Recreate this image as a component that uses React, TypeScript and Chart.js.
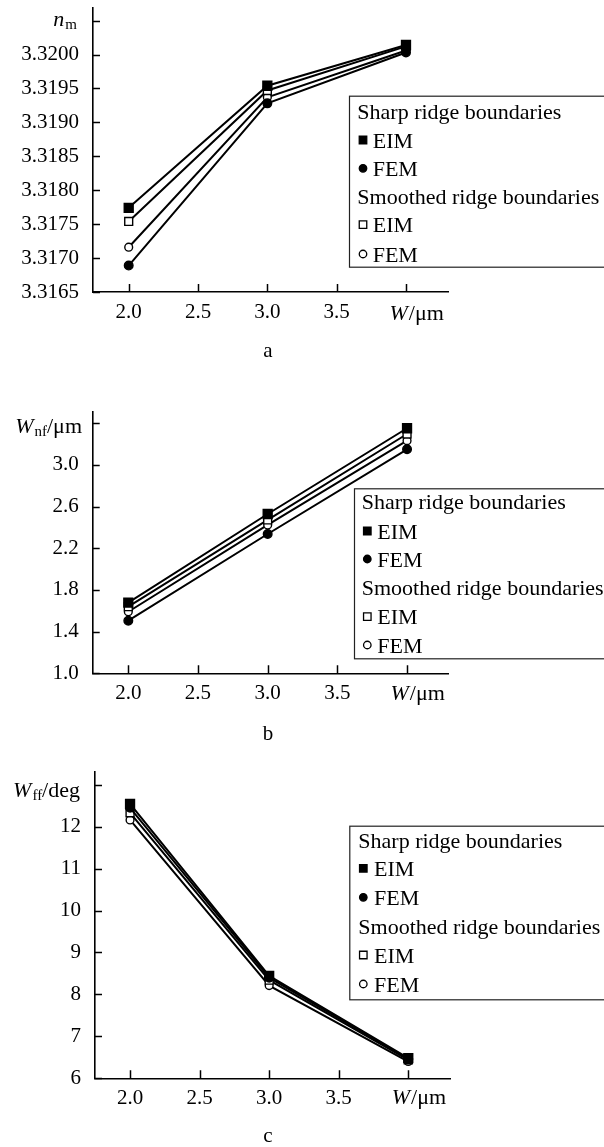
import React, { useEffect, useRef } from 'react';
import { Chart, registerables } from 'chart.js';

Chart.register(...registerables);

// ---------- data ----------
const xValues = [2.0, 3.0, 4.0];
const xTicks = [2.0, 2.5, 3.0, 3.5, 4.0];

const legendGroups = ['Sharp ridge boundaries', 'Smoothed ridge boundaries'];
const methodLabels = ['EIM', 'FEM'];
const panelLetters = ['a', 'b', 'c'];

// panel a: n_m
const nmTicks = [3.3165, 3.317, 3.3175, 3.318, 3.3185, 3.319, 3.3195, 3.32, 3.3205];
const nmSharpEIM = [3.31774, 3.31954, 3.32014];
const nmSharpFEM = [3.31689, 3.31928, 3.32003];
const nmSmoothEIM = [3.31754, 3.31947, 3.32012];
const nmSmoothFEM = [3.31716, 3.31937, 3.32006];

// panel b: W_nf
const wnfTicks = [1.0, 1.4, 1.8, 2.2, 2.6, 3.0, 3.4];
const wnfSharpEIM = [1.678, 2.529, 3.352];
const wnfSharpFEM = [1.505, 2.337, 3.15];
const wnfSmoothEIM = [1.64, 2.472, 3.297];
const wnfSmoothFEM = [1.591, 2.424, 3.233];

// panel c: W_ff
const wffTicks = [6, 7, 8, 9, 10, 11, 12, 13];
const wffSharpEIM = [12.54, 8.44, 6.48];
const wffSharpFEM = [12.45, 8.4, 6.46];
const wffSmoothEIM = [12.33, 8.34, 6.44];
const wffSmoothFEM = [12.16, 8.21, 6.4];

// axis title pieces
const yTitleA = [{ t: 'n', italic: true }, { t: 'm', sub: true }];
const yTitleB = [{ t: 'W', italic: true }, { t: 'nf', sub: true }, { t: '/' }, { t: 'μm' }];
const yTitleC = [{ t: 'W', italic: true }, { t: 'ff', sub: true }, { t: '/' }, { t: 'deg' }];
const xTitle = [{ t: 'W', italic: true }, { t: '/' }, { t: 'μm' }];

// ---------- layout / styling ----------
const W = 604;
const SERIF = "'Liberation Serif', 'Times New Roman', Times, serif";

type Part = { t: string; italic?: boolean; sub?: boolean };

const panels = [
  {
    top: 0, H: 365, L: 93, T: 7, R: 448, B: 292,
    xMin: 1.7425, xMax: 4.303, yMin: 3.3165, yMax: 3.32069,
    yTicks: nmTicks, digits: 4,
    series: [nmSharpEIM, nmSharpFEM, nmSmoothEIM, nmSmoothFEM],
    yTitle: yTitleA, yTitleRight: 77, yTitleBase: 26,
    xTitleBase: 320,
    letter: panelLetters[0], letterBase: 357,
    legend: { left: 349, top: 95.7, bottom: 266.7, headerX: 357.3, markerX: 363, entryX: 372.7, rows: [111.7, 140, 168.3, 196.7, 224.7, 254] },
  },
  {
    top: 365, H: 385, L: 92.7, T: 46.7, R: 448.3, B: 308.3,
    xMin: 1.7445, xMax: 4.296, yMin: 1.0, yMax: 3.511,
    yTicks: wnfTicks, digits: 1,
    series: [wnfSharpEIM, wnfSharpFEM, wnfSmoothEIM, wnfSmoothFEM],
    yTitle: yTitleB, yTitleRight: 82, yTitleBase: 68.3,
    xTitleBase: 335,
    letter: panelLetters[1], letterBase: 375,
    legend: { left: 354, top: 123.3, bottom: 293.3, headerX: 361.7, markerX: 367.3, entryX: 377.3, rows: [136.7, 166, 194, 222.7, 251.7, 280] },
  },
  {
    top: 750, H: 397, L: 95, T: 21.7, R: 450.7, B: 328.3,
    xMin: 1.748, xMax: 4.305, yMin: 6, yMax: 13.31,
    yTicks: wffTicks, digits: 0,
    series: [wffSharpEIM, wffSharpFEM, wffSmoothEIM, wffSmoothFEM],
    yTitle: yTitleC, yTitleRight: 80, yTitleBase: 47.3,
    xTitleBase: 353.5,
    letter: panelLetters[2], letterBase: 392,
    legend: { left: 349.3, top: 75.7, bottom: 249.3, headerX: 358.3, markerX: 363.3, entryX: 374, rows: [90, 118.3, 147.3, 176.7, 205, 234] },
  },
];

// marker styles: sharp EIM, sharp FEM, smoothed EIM, smoothed FEM
const markerStyles = [
  { style: 'rect', fill: '#000', r: 6.3 },
  { style: 'circle', fill: '#000', r: 4.3 },
  { style: 'rect', fill: '#fff', r: 5.6 },
  { style: 'circle', fill: '#fff', r: 3.9 },
];

function fontFor(p: Part) {
  if (p.sub) return `15px ${SERIF}`;
  return `${p.italic ? 'italic ' : ''}22px ${SERIF}`;
}

function drawRich(ctx: CanvasRenderingContext2D, parts: Part[], x: number, base: number, align: 'left' | 'right') {
  ctx.save();
  ctx.textAlign = 'left';
  ctx.textBaseline = 'alphabetic';
  ctx.fillStyle = '#000';
  const widths = parts.map((p) => {
    ctx.font = fontFor(p);
    return ctx.measureText(p.t).width + (p.italic ? 1 : 0);
  });
  const total = widths.reduce((a, b) => a + b, 0);
  let cx = align === 'right' ? x - total : x;
  parts.forEach((p, i) => {
    ctx.font = fontFor(p);
    ctx.fillText(p.t, cx, p.sub ? base + 3 : base);
    cx += widths[i];
  });
  ctx.restore();
}

function drawMarker(ctx: CanvasRenderingContext2D, style: string, fill: string, x: number, y: number, size: number) {
  ctx.save();
  ctx.fillStyle = fill;
  ctx.strokeStyle = '#000';
  ctx.lineWidth = 1.3;
  ctx.beginPath();
  if (style === 'rect') {
    ctx.rect(x - size / 2, y - size / 2, size, size);
  } else {
    ctx.arc(x, y, size / 2, 0, Math.PI * 2);
  }
  ctx.fill();
  ctx.stroke();
  ctx.restore();
}

function makeOverlay(p: (typeof panels)[number]) {
  return {
    id: 'overlay',
    beforeDatasetsDraw(chart: any) {
      const ctx: CanvasRenderingContext2D = chart.ctx;
      const xs = chart.scales.x;
      const ys = chart.scales.y;
      const a = chart.chartArea;
      ctx.save();
      ctx.strokeStyle = '#000';
      ctx.lineWidth = 1.5;
      ctx.beginPath();
      p.yTicks.forEach((v) => {
        const py = Math.round(ys.getPixelForValue(v)) + 0.5;
        ctx.moveTo(a.left, py);
        ctx.lineTo(a.left + 7, py);
      });
      xTicks.forEach((v) => {
        const px = Math.round(xs.getPixelForValue(v)) + 0.5;
        ctx.moveTo(px, a.bottom);
        ctx.lineTo(px, a.bottom - 8);
      });
      ctx.stroke();
      ctx.restore();
    },
    afterDraw(chart: any) {
      const ctx: CanvasRenderingContext2D = chart.ctx;
      const xs = chart.scales.x;
      // axis titles
      drawRich(ctx, p.yTitle, p.yTitleRight, p.yTitleBase, 'right');
      const lastX = xs.getPixelForValue(xTicks[xTicks.length - 1]);
      drawRich(ctx, xTitle, lastX - 16.5, p.xTitleBase, 'left');
      // panel letter
      ctx.save();
      ctx.font = `21px ${SERIF}`;
      ctx.fillStyle = '#000';
      ctx.textAlign = 'center';
      ctx.textBaseline = 'alphabetic';
      ctx.fillText(p.letter, 268, p.letterBase);
      ctx.restore();
      // legend
      const lg = p.legend;
      ctx.save();
      ctx.fillStyle = '#fff';
      ctx.fillRect(lg.left, lg.top, W + 10 - lg.left, lg.bottom - lg.top);
      ctx.strokeStyle = '#222';
      ctx.lineWidth = 1.2;
      ctx.strokeRect(lg.left + 0.5, lg.top + 0.5, W + 10 - lg.left, lg.bottom - lg.top);
      ctx.font = `22px ${SERIF}`;
      ctx.fillStyle = '#000';
      ctx.textAlign = 'left';
      ctx.textBaseline = 'alphabetic';
      const dsets = chart.data.datasets;
      let row = 0;
      legendGroups.forEach((g, gi) => {
        ctx.fillText(g, lg.headerX, lg.rows[row] + 7.5);
        row++;
        for (let k = 0; k < 2; k++) {
          const di = gi * 2 + k;
          const ms = markerStyles[di];
          const y = lg.rows[row];
          drawMarker(ctx, ms.style, ms.fill, lg.markerX, y, ms.style === 'rect' ? 7.5 : 7.5);
          ctx.fillStyle = '#000';
          ctx.fillText(dsets[di].label, lg.entryX, y + 7.5);
          row++;
        }
      });
      ctx.restore();
    },
  };
}

function Panel({ p }: { p: (typeof panels)[number] }) {
  const ref = useRef<HTMLCanvasElement>(null);
  useEffect(() => {
    const canvas = ref.current;
    if (!canvas) return;
    const datasets = p.series.map((vals, i) => {
      const ms = markerStyles[i];
      return {
        label: methodLabels[i % 2],
        data: xValues.map((x, j) => ({ x, y: vals[j] })),
        borderColor: '#000',
        borderWidth: 2,
        backgroundColor: ms.fill,
        pointStyle: ms.style,
        pointRadius: ms.r,
        pointBackgroundColor: ms.fill,
        pointBorderColor: '#000',
        pointBorderWidth: 1.4,
        tension: 0,
        fill: false,
      };
    });
    const chart = new Chart(canvas, {
      type: 'line',
      data: { datasets },
      plugins: [makeOverlay(p)],
      options: {
        responsive: false,
        animation: false,
        events: [],
        layout: { padding: { top: p.T, right: W - p.R, bottom: 0, left: 0 } },
        plugins: {
          legend: { display: false },
          tooltip: { enabled: false },
          title: { display: false },
        },
        scales: {
          x: {
            type: 'linear',
            position: 'bottom',
            min: p.xMin,
            max: p.xMax,
            afterBuildTicks: (s: any) => {
              s.ticks = xTicks.map((v) => ({ value: v }));
            },
            afterFit: (s: any) => {
              s.height = p.H - p.B;
              s.paddingLeft = 0;
              s.paddingRight = 0;
            },
            grid: { display: false, drawTicks: false },
            border: { display: true, color: '#000', width: 1.6 },
            ticks: {
              autoSkip: false,
              maxRotation: 0,
              minRotation: 0,
              padding: 8,
              color: '#000',
              font: { family: SERIF, size: 21 },
              callback: (v: any) => (Number(v) === xTicks[xTicks.length - 1] ? '' : Number(v).toFixed(1)),
            },
          },
          y: {
            type: 'linear',
            position: 'left',
            min: p.yMin,
            max: p.yMax,
            afterBuildTicks: (s: any) => {
              s.ticks = p.yTicks.map((v) => ({ value: v }));
            },
            afterFit: (s: any) => {
              s.width = p.L;
              s.paddingTop = 0;
              s.paddingBottom = 0;
            },
            grid: { display: false, drawTicks: false },
            border: { display: true, color: '#000', width: 1.6 },
            ticks: {
              autoSkip: false,
              padding: 14,
              color: '#000',
              font: { family: SERIF, size: 21 },
              callback: (v: any) =>
                Math.abs(Number(v) - p.yTicks[p.yTicks.length - 1]) < 1e-9 ? '' : Number(v).toFixed(p.digits),
            },
          },
        },
      } as any,
    });
    return () => chart.destroy();
  }, [p]);
  return (
    <canvas
      ref={ref}
      width={W}
      height={p.H}
      style={{ position: 'absolute', left: 0, top: p.top, width: W, height: p.H, display: 'block' }}
    />
  );
}

export default function App() {
  return (
    <div style={{ position: 'absolute', left: 0, top: 0, width: W, height: 1147, background: '#fff', overflow: 'hidden' }}>
      {panels.map((p, i) => (
        <Panel key={i} p={p} />
      ))}
    </div>
  );
}
